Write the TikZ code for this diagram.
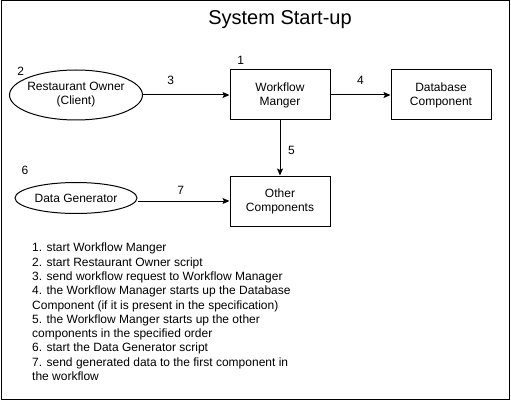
\documentclass[tikz,border=0pt]{standalone}
\usepackage{fontspec}
\setmainfont{Liberation Sans}
\usetikzlibrary{shapes.geometric, arrows.meta, positioning}

\begin{document}
\begin{tikzpicture}[x=1pt, y=-1pt, node distance=55pt,
        comp/.style={rectangle, draw, line width=1pt, minimum width=100pt, minimum height=50pt, inner sep=0pt, align=center, font=\fontsize{12}{14}\selectfont},
        actor/.style={ellipse, draw, line width=1pt, inner xsep=-10pt, inner ysep=0pt, align=center, font=\fontsize{12}{14}\selectfont},
        num/.style={inner sep=0pt, font=\fontsize{12}{14}\selectfont},
        line/.style={draw, line width=1pt, -{Stealth[length=7pt, width=6pt, inset=1.5pt]}}]

        \useasboundingbox (0,0) rectangle (511,401);
        % Marco y titulo
        \draw[line width=1pt] (1,1) rectangle (509.5,399.5);
        \node [inner sep=0pt, font=\fontsize{20}{24}\selectfont] (title) at (280,20) {System Start-up};

        % Componentes
        \node [comp] (wm) at (280,95) {Workflow\\Manger};
        \node [comp, right=60pt of wm] (db) {Database\\Component};
        \node [comp, below=55pt of wm] (oc) {Other\\Components};

        % Actores
        \node [actor, minimum width=133pt, minimum height=50pt, left=86.5pt of wm] (ro) {Restaurant Owner\\(Client)};
        \node [actor, minimum width=122pt, minimum height=31pt] (dg) at (76,198) {Data Generator};

        % Numeros de paso
        \node [num] (n1) at (240.7,60.7) {1};
        \node [num] (n2) at (20.7,71.7) {2};
        \node [num] (n6) at (25,170.7) {6};

        % Conexiones
        \path [line] (ro) -- node [num, pos=0.32, above=9.5pt] {3} (wm);
        \path [line] (wm) -- node [num, above=9.5pt] {4} (db);
        \path [line] (wm) -- node [num, pos=0.55, right=7.5pt] {5} (oc);
        \path [line] (dg.east |- oc) -- node [num, pos=0.47, above=5.7pt] {7} (oc.west);

        % Lista de pasos
        \node [inner sep=0pt, anchor=north west, align=left, font=\fontsize{12}{14.3}\selectfont] (steps) at (32,243) {1. start Workflow Manger\\
            2. start Restaurant Owner script\\
            3. send workflow request to Workflow Manager\\
            4. the Workflow Manager starts up the Database\\
            Component (if it is present in the specification)\\
            5. the Workflow Manger starts up the other\\
            components in the specified order\\
            6. start the Data Generator script\\
            7. send generated data to the first component in\\
            the workflow};
    \end{tikzpicture}
\end{document}
